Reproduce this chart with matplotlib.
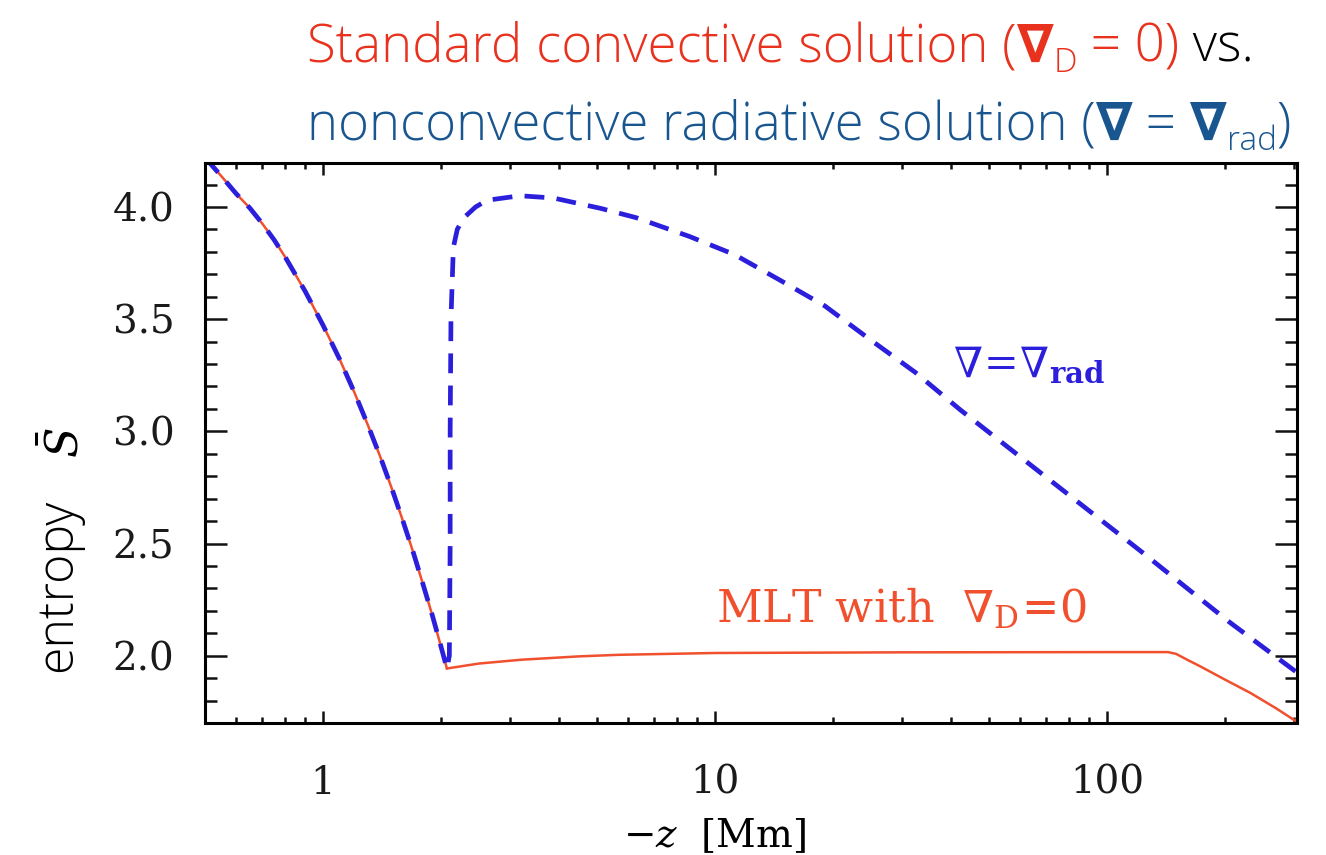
import numpy as np
import matplotlib
matplotlib.use('Agg')
import matplotlib.pyplot as plt
from matplotlib.ticker import MultipleLocator, LogLocator, NullFormatter, FixedLocator

W, H = 1326, 855

# shared convective branch near the surface (-z in Mm, mean entropy)
z_top = [0.50, 0.55, 0.60, 0.65, 0.70, 0.75, 0.80, 0.90, 1.0, 1.1, 1.2, 1.3, 1.4,
         1.5, 1.6, 1.7, 1.8, 1.9, 2.0, 2.07]
s_top = [4.22, 4.138, 4.06, 3.996, 3.926, 3.854, 3.778, 3.625, 3.473, 3.325, 3.177,
         3.03, 2.886, 2.742, 2.599, 2.459, 2.317, 2.18, 2.04, 1.943]

# MLT with nabla_D = 0
z_mlt = [2.07, 2.5, 3.2, 4.5, 5.7, 10, 30, 100, 143, 150, 160, 173, 200, 232, 270, 305]
s_mlt = [1.943, 1.965, 1.982, 1.997, 2.004, 2.012, 2.015, 2.016, 2.016, 2.008, 1.982,
         1.952, 1.893, 1.834, 1.765, 1.705]

# radiative solution nabla = nabla_rad
z_rad = [2.10, 2.11, 2.11, 2.12, 2.15, 2.2, 2.28, 2.45, 2.62, 3.18, 3.87, 5.1, 6.3,
         8.62, 11.2, 14.6, 19.05, 24.9, 32.4, 42.2, 71.3, 121, 205, 305]
s_rad = [2.0, 2.5, 3.0, 3.5, 3.82, 3.9, 3.95, 4.0, 4.03, 4.05, 4.04, 3.994, 3.952,
         3.868, 3.788, 3.675, 3.559, 3.408, 3.263, 3.096, 2.784, 2.47, 2.15, 1.925]

xticks = [1, 10, 100]
xticklabels = ['1', '10', '100']
yticks = [2.0, 2.5, 3.0, 3.5, 4.0]

red = '#f0502e'
blue = '#2b1fdc'

plt.rcParams['mathtext.fontset'] = 'dejavuserif'

fig = plt.figure(figsize=(W / 100, H / 100), dpi=100)
ax = fig.add_axes([205 / W, 1 - 723 / H, (1297 - 205) / W, (723 - 163) / H])

ax.plot(z_top, s_top, color=red, lw=1.8, solid_capstyle='round')
ax.plot(z_mlt, s_mlt, color=red, lw=1.8)
ax.plot(z_top + z_rad, s_top + s_rad, color=blue, lw=3.4,
        linestyle=(0, (4.2, 2.6)))

ax.set_xscale('log')
ax.set_xlim(0.5, 305)
ax.set_ylim(1.70, 4.196)

ax.xaxis.set_major_locator(FixedLocator(xticks))
ax.set_xticklabels(xticklabels)
ax.xaxis.set_minor_locator(LogLocator(base=10, subs=np.arange(2, 10)))
ax.xaxis.set_minor_formatter(NullFormatter())
ax.set_yticks(yticks)
ax.set_yticklabels(['%.1f' % v for v in yticks])
ax.yaxis.set_minor_locator(MultipleLocator(0.1))

for s in ax.spines.values():
    s.set_linewidth(2.2)
ax.tick_params(axis='both', which='both', direction='in', top=True, right=True,
               width=1.8, colors='#111111')
ax.tick_params(axis='x', which='major', length=8.5, pad=30)
ax.tick_params(axis='x', which='minor', length=4.5)
ax.tick_params(axis='y', which='major', length=16, pad=22)
ax.tick_params(axis='y', which='minor', length=8.5)
for lab in ax.get_xticklabels() + ax.get_yticklabels():
    lab.set_fontfamily('DejaVu Serif')
    lab.set_fontsize(28)
    lab.set_color('#1a1a1a')

# curve labels
ax.text(0.755, 0.64, r'$\nabla\!=\!\nabla_{\mathbf{rad}}$', transform=ax.transAxes,
        color=blue, fontsize=30, ha='center', va='center')
ax.text(0.638, 0.205, r'MLT with  $\nabla_{\mathrm{D}}\!=\!0$', transform=ax.transAxes,
        color=red, fontsize=32, ha='center', va='center', family='DejaVu Serif')

# axis labels
fig.text(715 / W, 1 - 836 / H, r'$-z$  [Mm]', ha='center', va='center', fontsize=28,
         family='DejaVu Serif')
fig.text(58 / W, 1 - 585 / H, 'entropy', rotation=90, ha='center', va='center',
         fontsize=36, family='Open Sans', fontweight='light')
fig.text(64 / W, 1 - 443 / H, r'$\bar{S}$', rotation=90, ha='center', va='center',
         fontsize=32)


def put_line(x0, base, pieces):
    """Write text pieces one after another along a baseline (pixels from top)."""
    r = fig.canvas.get_renderer()
    x = x0
    for txt, kw in pieces:
        kw = dict(kw)
        dy = kw.pop('dy', 0)
        t = fig.text(x / W, 1 - (base + dy) / H, txt, ha='left', va='baseline', **kw)
        x = t.get_window_extent(renderer=r).x1


tred = '#e8321e'
tblue = '#195690'
light = dict(family='Open Sans', fontweight='light', fontsize=38)
nab = dict(family='DejaVu Sans', fontweight='bold', fontsize=38)
sub = dict(family='Open Sans', fontweight='light', fontsize=24, dy=10)

put_line(307, 62, [
    ('Standard convective solution (', dict(light, color=tred)),
    ('\u2207', dict(nab, color=tred)),
    ('D', dict(sub, color=tred)),
    (' = 0)', dict(light, color=tred)),
    (' vs.', dict(light, color='black')),
])
put_line(307, 140, [
    ('nonconvective radiative solution (', dict(light, color=tblue)),
    ('\u2207', dict(nab, color=tblue)),
    (' = ', dict(light, color=tblue)),
    ('\u2207', dict(nab, color=tblue)),
    ('rad', dict(sub, color=tblue)),
    (')', dict(light, color=tblue)),
])

fig.savefig('out.png', dpi=100)
